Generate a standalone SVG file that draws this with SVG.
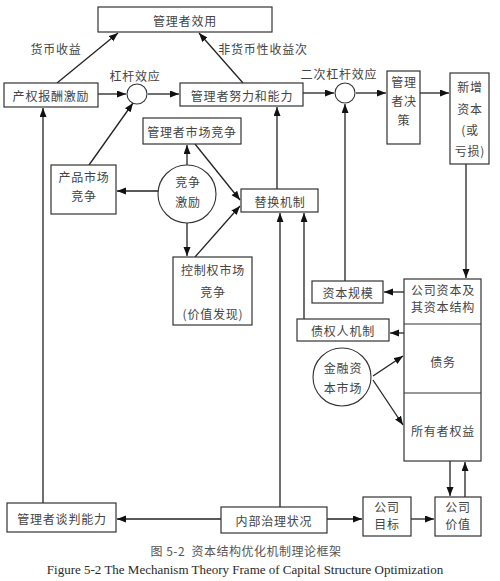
<svg xmlns="http://www.w3.org/2000/svg" width="500" height="581" viewBox="0 0 500 581">
<defs>
<style>
.b{fill:#fff;stroke:#333;stroke-width:1.2}
.c{fill:#fff;stroke:#333;stroke-width:1.1}
.t{font-family:"Noto Sans CJK SC","Liberation Sans",sans-serif;font-size:12px;fill:#444;text-anchor:middle;dominant-baseline:central;letter-spacing:0.8px}
.l{font-family:"Noto Sans CJK SC","Liberation Sans",sans-serif;font-size:12px;fill:#444;text-anchor:middle;dominant-baseline:central;letter-spacing:0.8px}
.e line{stroke:#222;stroke-width:1.3;marker-end:url(#a)}
.cap{font-family:"Noto Sans CJK SC",sans-serif;font-size:12px;fill:#555;text-anchor:middle;white-space:pre;letter-spacing:0.5px}
.en{font-family:"Liberation Serif",serif;font-size:13px;fill:#2a2a2a;text-anchor:middle}
</style>
<marker id="a" markerUnits="userSpaceOnUse" markerWidth="10" markerHeight="8" refX="9" refY="3.5" orient="auto"><path d="M0,0 L9,3.5 L0,7z" fill="#111"/></marker>
</defs>
<rect width="500" height="581" fill="#fff"/>
<g id="edges" class="e">
<line x1="57" y1="83" x2="118" y2="33"/>
<line x1="243" y1="83" x2="199" y2="33"/>
<line x1="98" y1="94" x2="126" y2="94"/>
<line x1="148" y1="94" x2="179" y2="94"/>
<line x1="303" y1="93" x2="334" y2="93"/>
<line x1="356" y1="93" x2="386" y2="93"/>
<line x1="420" y1="93" x2="449" y2="93"/>
<line x1="466" y1="164" x2="466" y2="278"/>
<line x1="404" y1="292" x2="384" y2="292"/>
<line x1="404" y1="333" x2="390" y2="333"/>
<line x1="345" y1="281" x2="345" y2="104"/>
<line x1="277" y1="189" x2="277" y2="107"/>
<line x1="280" y1="507" x2="280" y2="213"/>
<line x1="304" y1="319" x2="304" y2="213"/>
<line x1="195" y1="144" x2="240" y2="200"/>
<line x1="195" y1="257" x2="240" y2="206"/>
<line x1="187" y1="165" x2="187" y2="145"/>
<line x1="158" y1="191" x2="117" y2="191"/>
<line x1="187" y1="223" x2="187" y2="256"/>
<line x1="89" y1="165" x2="133" y2="103"/>
<line x1="43" y1="503" x2="43" y2="108"/>
<line x1="221" y1="519" x2="117" y2="519"/>
<line x1="327" y1="519" x2="362" y2="519"/>
<line x1="411" y1="519" x2="434" y2="519"/>
<line x1="450" y1="461" x2="450" y2="496"/>
<line x1="465" y1="497" x2="465" y2="462"/>
<line x1="373" y1="376" x2="403" y2="356"/>
<line x1="373" y1="380" x2="403" y2="425"/>
</g>
<g id="edge-labels">
<text class="l" x="56" y="48">货币收益</text>
<text class="l" x="263" y="48">非货币性收益次</text>
<text class="l" x="135" y="75">杠杆效应</text>
<text class="l" x="339" y="73">二次杠杆效应</text>
</g>
<g id="n-utility"><rect class="b" x="98" y="7" width="174" height="25"/><text class="t" x="185" y="20">管理者效用</text></g>
<g id="n-incentive"><rect class="b" x="4" y="83" width="94" height="24"/><text class="t" x="51" y="95">产权报酬激励</text></g>
<g id="n-lever1"><circle class="c" cx="137" cy="94" r="10"/></g>
<g id="n-effort"><rect class="b" x="180" y="83" width="123" height="23"/><text class="t" x="242" y="95">管理者努力和能力</text></g>
<g id="n-lever2"><circle class="c" cx="345" cy="93" r="10"/></g>
<g id="n-decision"><rect class="b" x="387" y="71" width="33" height="73"/><text class="t" x="404" y="81">管理</text><text class="t" x="404" y="100">者决</text><text class="t" x="404" y="119">策</text></g>
<g id="n-newcap"><rect class="b" x="450" y="73" width="39" height="91"/><text class="t" x="470" y="86">新增</text><text class="t" x="470" y="108">资本</text><text class="t" x="470" y="129">(或</text><text class="t" x="470" y="150">亏损)</text></g>
<g id="n-mgrmarket"><rect class="b" x="143" y="118" width="98" height="26"/><text class="t" x="192" y="131">管理者市场竞争</text></g>
<g id="n-product"><rect class="b" x="51" y="165" width="65" height="49"/><text class="t" x="84" y="176">产品市场</text><text class="t" x="84" y="195">竞争</text></g>
<g id="n-compete"><circle class="c" cx="187" cy="194" r="29"/><text class="t" x="188" y="181">竞争</text><text class="t" x="188" y="201">激励</text></g>
<g id="n-replace"><rect class="b" x="241" y="189" width="77" height="23"/><text class="t" x="280" y="201">替换机制</text></g>
<g id="n-control"><rect class="b" x="173" y="257" width="79" height="68"/><text class="t" x="213" y="269">控制权市场</text><text class="t" x="213" y="291">竞争</text><text class="t" x="213" y="313">(价值发现)</text></g>
<g id="n-scale"><rect class="b" x="312" y="281" width="71" height="22"/><text class="t" x="348" y="292">资本规模</text></g>
<g id="n-creditor"><rect class="b" x="297" y="319" width="92" height="22"/><text class="t" x="343" y="330">债权人机制</text></g>
<g id="n-capital"><rect class="b" x="404" y="279" width="77" height="182"/><line x1="404" y1="324" x2="481" y2="324" stroke="#333" stroke-width="1.2"/><line x1="404" y1="393" x2="481" y2="393" stroke="#333" stroke-width="1.2"/><text class="t" x="443" y="289">公司资本及</text><text class="t" x="443" y="306">其资本结构</text><text class="t" x="443" y="361">债务</text><text class="t" x="443" y="430">所有者权益</text></g>
<g id="n-finmarket"><circle class="c" cx="342" cy="377" r="29"/><text class="t" x="343" y="367">金融资</text><text class="t" x="343" y="387">本市场</text></g>
<g id="n-negot"><rect class="b" x="7" y="503" width="109" height="29"/><text class="t" x="62" y="518">管理者谈判能力</text></g>
<g id="n-internal"><rect class="b" x="221" y="507" width="106" height="26"/><text class="t" x="274" y="520">内部治理状况</text></g>
<g id="n-goal"><rect class="b" x="363" y="497" width="48" height="39"/><text class="t" x="387" y="506">公司</text><text class="t" x="387" y="523">目标</text></g>
<g id="n-value"><rect class="b" x="435" y="497" width="46" height="39"/><text class="t" x="458" y="506">公司</text><text class="t" x="458" y="523">价值</text></g>
<g id="caption">
<text class="cap" x="246" y="556">图 5-2  资本结构优化机制理论框架</text>
<text class="en" x="245" y="574">Figure 5-2 The Mechanism Theory Frame of Capital Structure Optimization</text>
</g>
</svg>
